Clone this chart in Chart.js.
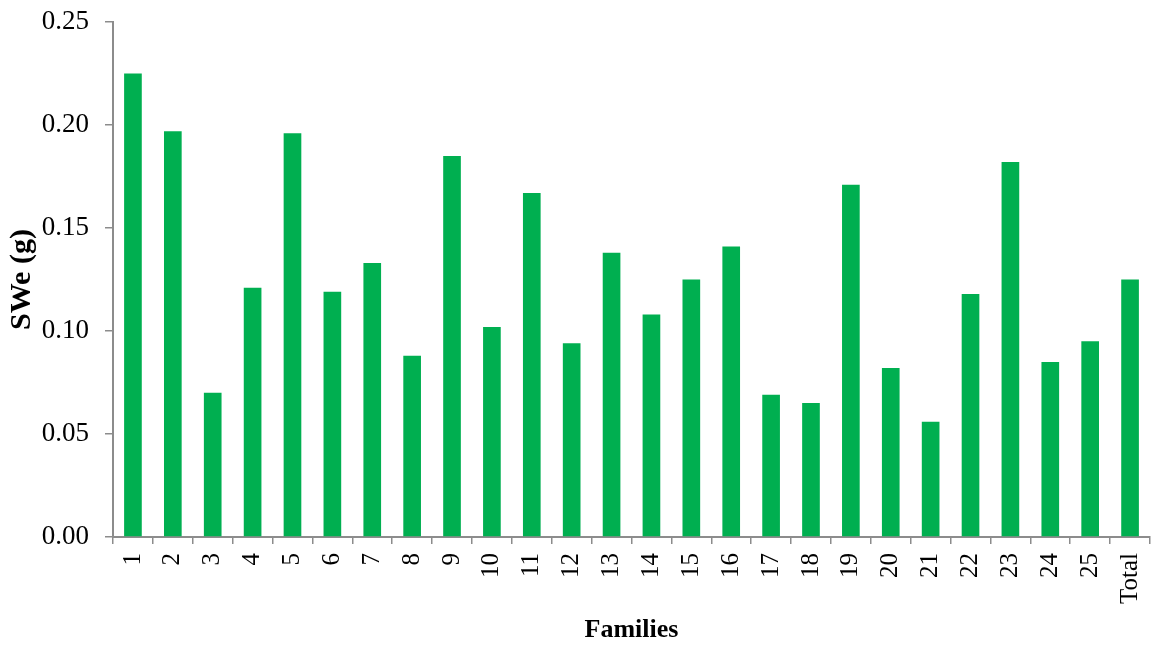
<!DOCTYPE html>
<html>
<head>
<meta charset="utf-8">
<script src="https://cdn.jsdelivr.net/npm/chart.js@4/dist/chart.umd.min.js"></script>
<style>
  html, body { margin: 0; padding: 0; background: #fff; }
  #wrap { width: 1151px; height: 646px; }
</style>
</head>
<body>
<div id="wrap"><canvas id="swChart" width="1151" height="646"></canvas></div>
<script>
// Familles et poids moyen des graines (g)
var families = ['1', '2', '3', '4', '5', '6', '7', '8', '9', '10', '11', '12', '13',
                '14', '15', '16', '17', '18', '19', '20', '21', '22', '23', '24', '25', 'Total'];
var sweValues = [0.225, 0.197, 0.070, 0.121, 0.196, 0.119, 0.133, 0.088, 0.185, 0.102,
                 0.167, 0.094, 0.138, 0.108, 0.125, 0.141, 0.069, 0.065, 0.171, 0.082,
                 0.056, 0.118, 0.182, 0.085, 0.095, 0.125];
var yTicks = [0.00, 0.05, 0.10, 0.15, 0.20, 0.25];

var axisGray = '#8c8c8c';
var serif = "'Liberation Serif', 'Times New Roman', serif";

var ctx = document.getElementById('swChart').getContext('2d');
var chart = new Chart(ctx, {
    type: 'bar',
    data: {
        labels: families,
        datasets: [{
            label: 'SWe (g)',
            data: sweValues,
            backgroundColor: '#00af50',
            borderWidth: 0,
            categoryPercentage: 1.0,
            barPercentage: 0.443
        }]
    },
    options: {
        responsive: false,
        animation: false,
        layout: { padding: { top: 22, right: 1, left: 0, bottom: 0 } },
        plugins: {
            legend: { display: false },
            tooltip: { enabled: false }
        },
        scales: {
            x: {
                grid: { display: true, drawOnChartArea: false, drawTicks: true, tickLength: 7,
                        color: axisGray, lineWidth: 1.5, offset: true },
                border: { display: true, color: axisGray, width: 2 },
                ticks: {
                    autoSkip: false, minRotation: 90, maxRotation: 90,
                    color: '#000', padding: 9,
                    font: { family: serif, size: 25 }
                },
                title: {
                    display: true, text: 'Families', color: '#000',
                    font: { family: serif, size: 26, weight: 'bold' },
                    padding: { top: 4, bottom: 0 }
                },
                afterFit: function(scale) {
                    scale.height = 109;
                    scale.paddingLeft = 0;
                    scale.paddingRight = 0;
                }
            },
            y: {
                min: 0, max: 0.25,
                grid: { display: true, drawOnChartArea: false, drawTicks: true, tickLength: 8,
                        color: axisGray, lineWidth: 1.5 },
                border: { display: true, color: axisGray, width: 2 },
                afterBuildTicks: function(scale) {
                    scale.ticks = yTicks.map(function(v) { return { value: v }; });
                },
                ticks: {
                    color: '#000', padding: 16,
                    font: { family: serif, size: 27 },
                    callback: function(v) { return Number(v).toFixed(2); }
                },
                title: {
                    display: true, text: 'SWe (g)', color: '#000',
                    font: { family: serif, size: 30, weight: 'bold' },
                    padding: { top: 4, bottom: 0 }
                },
                afterFit: function(scale) {
                    scale.width = 113;
                    scale.paddingTop = 0;
                    scale.paddingBottom = 0;
                }
            }
        }
    }
});
</script>
</body>
</html>
